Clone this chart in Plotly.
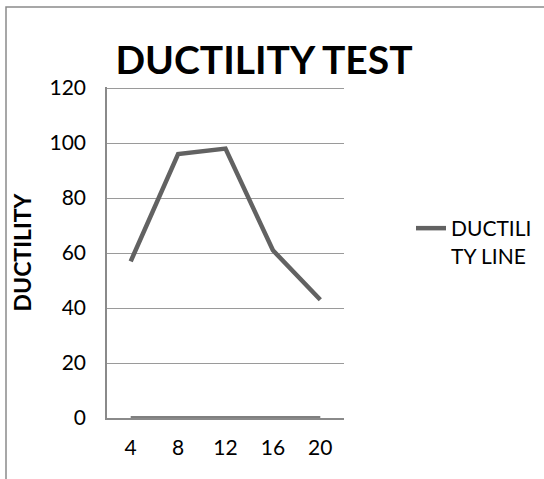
import plotly.graph_objects as go

categories = ["4", "8", "12", "16", "20"]
ductility = [57, 96, 98, 61, 43]
baseline = [0, 0, 0, 0, 0]
y_ticks = [0, 20, 40, 60, 80, 100, 120]

FONT = "Lato"
Y_MAX = 120.4

# plot area: x 107..344, y ~87..418 in a 544x479 page
L, T, B = 107, 87, 61
W = 237
H = 479 - T - B
R = 544 - L - W

fig = go.Figure()
fig.add_trace(go.Scatter(
    x=categories, y=baseline, mode="lines",
    line=dict(color="#808080", width=4), showlegend=False, hoverinfo="skip",
))
fig.add_trace(go.Scatter(
    x=categories, y=ductility, mode="lines", name="DUCTILI<br>TY LINE",
    line=dict(color="#626262", width=4.5),
))


def py(p):
    return (479 - B - p) / H


def px(p):
    return (p - L) / W


fig.update_layout(
    width=544, height=479,
    margin=dict(l=L, r=R, t=T, b=B, autoexpand=False),
    paper_bgcolor="white", plot_bgcolor="white",
    font=dict(family=FONT, size=21, color="#000000"),
    title=dict(text="<b>DUCTILITY TEST</b>", font=dict(family=FONT, size=39, color="#000"),
               xref="container", x=264 / 544, xanchor="center",
               yref="container", y=1 - 60 / 479, yanchor="middle"),
    showlegend=True,
    legend=dict(x=px(411), xanchor="left", y=py(208), yanchor="top",
                valign="top", font=dict(family=FONT, size=21, color="#000"),
                bgcolor="rgba(0,0,0,0)", itemwidth=30),
    shapes=[dict(type="rect", xref="paper", yref="paper",
                 x0=px(6), x1=px(700), y0=py(700), y1=py(7),
                 line=dict(color="#8a8a8a", width=1.5), fillcolor="rgba(0,0,0,0)", layer="below")],
)
fig.update_xaxes(
    type="category", range=[-0.5, 4.5], showgrid=False, zeroline=False,
    showline=True, linecolor="#8a8a8a", linewidth=1.5, ticks="", ticklabelstandoff=10,
    tickfont=dict(family=FONT, size=21, color="#000"),
)
fig.update_yaxes(
    range=[0, Y_MAX], tickvals=y_ticks, showgrid=True, gridcolor="#9a9a9a", gridwidth=1.2,
    zeroline=False, showline=True, linecolor="#8a8a8a", linewidth=1.5, ticks="",
    ticklabelstandoff=15, tickfont=dict(family=FONT, size=21, color="#000"),
    title=dict(text="<b>DUCTILITY</b>", font=dict(family=FONT, size=23, color="#000"), standoff=11),
)

fig.write_html("out.html", config={"displayModeBar": False},
               post_script="document.body.style.margin='0';")
